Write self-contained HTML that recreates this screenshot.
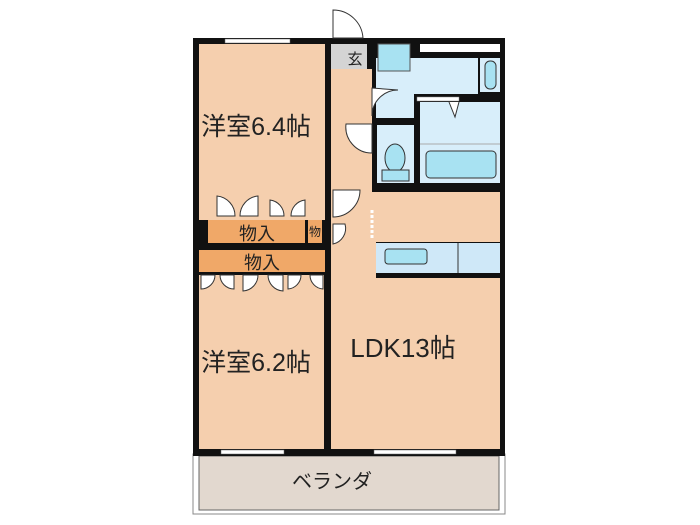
<!DOCTYPE html>
<html><head><meta charset="utf-8"><style>
html,body{margin:0;padding:0;background:#fff;width:700px;height:525px;overflow:hidden}
svg{display:block}
text{font-family:"Liberation Sans","Noto Sans CJK JP",sans-serif;fill:#222}
</style></head><body>
<svg width="700" height="525" viewBox="0 0 700 525" xmlns="http://www.w3.org/2000/svg">
<rect x="193" y="454" width="312" height="60" fill="#fff" stroke="#888" stroke-width="1"/>
<rect x="199" y="456" width="300" height="54" fill="#e2d8cf" stroke="#666" stroke-width="1"/>
<text x="332" y="488" font-size="20" text-anchor="middle">ベランダ</text>
<rect x="193" y="38" width="312" height="418" fill="#111"/>
<rect x="199" y="44" width="126" height="176" fill="#f5cfae"/>
<rect x="199" y="275" width="125" height="174" fill="#f5cfae"/>
<rect x="331" y="69" width="41" height="380" fill="#f5cfae"/>
<rect x="331" y="278" width="169" height="171" fill="#f5cfae"/>
<rect x="376" y="192" width="124" height="50" fill="#f5cfae"/>
<rect x="331" y="192" width="45" height="86" fill="#f5cfae"/>
<rect x="331" y="44" width="36" height="25" fill="#d4d4d4"/>
<text x="355" y="64" font-size="15" text-anchor="middle">玄</text>
<rect x="376" y="58" width="102" height="36" fill="#d8eefa"/>
<rect x="376" y="72" width="38" height="46" fill="#d8eefa"/>
<rect x="378" y="44" width="32" height="27" fill="#a8e2f2" stroke="#555" stroke-width="1"/>
<rect x="420" y="44" width="80" height="8" fill="#fff"/>
<rect x="480" y="58" width="20" height="34" fill="#d8eefa"/>
<rect x="485" y="61" width="11" height="28" rx="5" fill="#a8e2f2" stroke="#333"/>
<rect x="420" y="102" width="80" height="81" fill="#d8eefa"/>
<rect x="417" y="97" width="42" height="4" fill="#fff" stroke="#888" stroke-width="0.5"/>
<rect x="426" y="151" width="70" height="27" rx="4" fill="#a8e2f2" stroke="#333"/>
<line x1="420" y1="144" x2="500" y2="144" stroke="#aaa"/>
<path d="M449,102 L455,117 L459,102" fill="#fff" stroke="#333"/>
<rect x="377" y="125" width="37" height="58" fill="#d8eefa"/>
<ellipse cx="395" cy="158" rx="10" ry="14" fill="#a8e2f2" stroke="#333"/>
<rect x="382" y="170" width="27" height="11" fill="#a8e2f2" stroke="#333"/>
<rect x="376" y="243" width="124" height="30" fill="#cfe8f8"/>
<line x1="458" y1="243" x2="458" y2="273" stroke="#333"/>
<rect x="385" y="249" width="42" height="15" rx="3" fill="#a8e2f2" stroke="#333"/>
<path d="M372,88 v28 a26,26 0 0 1 26,-26 z" fill="#fff" stroke="#333"/>
<path d="M372,124 v29 a26,26 0 0 1 -26,-29 z" fill="#fff" stroke="#333"/>
<path d="M333,190 h27 a27,27 0 0 1 -27,27 z" fill="#fff" stroke="#333"/>
<path d="M333,224 v20 a16,16 0 0 0 12,-20 z" fill="#fff" stroke="#333"/>
<path d="M333,10 v28 h30 a30,30 0 0 0 -30,-28 z" fill="#fff" stroke="#333"/>
<rect x="225" y="39" width="65" height="4" fill="#fff" stroke="#666" stroke-width="0.5"/>
<rect x="221" y="450" width="63" height="4" fill="#fff" stroke="#666" stroke-width="0.5"/>
<rect x="374" y="450" width="82" height="4" fill="#fff" stroke="#666" stroke-width="0.5"/>
<rect x="208" y="220" width="97" height="23" fill="#f0a868"/>
<text x="257" y="240" font-size="18" text-anchor="middle">物入</text>
<rect x="308" y="220" width="14" height="23" fill="#f0a868"/>
<text x="315" y="236" font-size="12" text-anchor="middle">物</text>
<rect x="199" y="250" width="126" height="22" fill="#f0a868"/>
<text x="262" y="269" font-size="18" text-anchor="middle">物入</text>
<g fill="#fff" stroke="#333">
<path d="M217,216 v-20 a20,20 0 0 1 18,20 z"/><path d="M258,216 v-20 a20,20 0 0 0 -18,20 z"/>
<path d="M270,216 v-16 a16,16 0 0 1 14,16 z"/><path d="M305,216 v-16 a16,16 0 0 0 -14,16 z"/>
<path d="M201,275 v14 a14,14 0 0 0 14,-14 z"/><path d="M234,275 v14 a14,14 0 0 1 -14,-14 z"/>
<path d="M243,275 v16 a16,16 0 0 0 15,-16 z"/><path d="M283,275 v16 a16,16 0 0 1 -15,-16 z"/>
<path d="M288,275 v14 a14,14 0 0 0 13,-14 z"/><path d="M323,275 v14 a14,14 0 0 1 -13,-14 z"/>
</g>
<line x1="372" y1="210" x2="372" y2="238" stroke="#fff" stroke-width="3" stroke-dasharray="3,2"/>
<text x="256" y="135" font-size="25" text-anchor="middle">洋室6.4帖</text>
<text x="256" y="371" font-size="25" text-anchor="middle">洋室6.2帖</text>
<text x="403" y="357" font-size="26" text-anchor="middle">LDK13帖</text>
</svg>
</body></html>
